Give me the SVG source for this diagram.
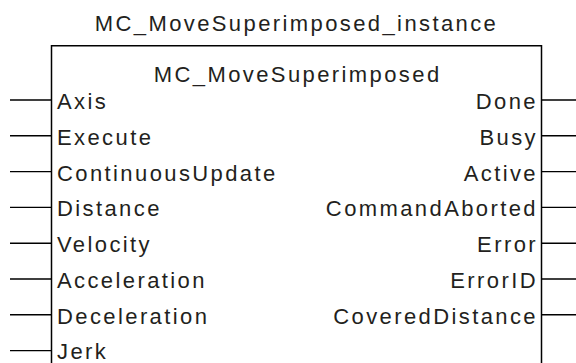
<svg xmlns="http://www.w3.org/2000/svg" width="576" height="363" viewBox="0 0 576 363">
  <style>
    text { font-family: "Liberation Sans", Arial, sans-serif; font-size: 22px; fill: #231f20; letter-spacing: 2.4px; }
    .l { text-anchor: start; }
    .r { text-anchor: end; }
    .c { text-anchor: middle; }
    .pin { stroke: #000; stroke-width: 1.4; fill: none; }
    .box { stroke: #000; stroke-width: 1.5; fill: #fff; }
  </style>
  <rect width="576" height="363" fill="#fff"/>
  <g id="instance-name">
    <text class="c" x="296.5" y="31">MC_MoveSuperimposed_instance</text>
  </g>
  <g id="fb-block">
    <path class="box" d="M51.5,370 V45.7 H541.5 V370"/>
    <text class="c" x="297.7" y="82">MC_MoveSuperimposed</text>
  </g>
  <g id="connectors">
    <path class="pin" d="M10,100 H51.5 M10,135.8 H51.5 M10,171.6 H51.5 M10,207.4 H51.5 M10,243.2 H51.5 M10,279 H51.5 M10,314.8 H51.5 M10,350.6 H51.5"/>
    <path class="pin" d="M541.5,100 H576 M541.5,135.8 H576 M541.5,171.6 H576 M541.5,207.4 H576 M541.5,243.2 H576 M541.5,279 H576 M541.5,314.8 H576"/>
  </g>
  <g id="inputs">
    <text class="l" x="57" y="109">Axis</text>
    <text class="l" x="57" y="144.8">Execute</text>
    <text class="l" x="57" y="180.6">ContinuousUpdate</text>
    <text class="l" x="57" y="216.4">Distance</text>
    <text class="l" x="57" y="252.2">Velocity</text>
    <text class="l" x="57" y="288">Acceleration</text>
    <text class="l" x="57" y="323.8">Deceleration</text>
    <text class="l" x="57" y="358.5">Jerk</text>
  </g>
  <g id="outputs">
    <text class="r" x="538" y="109">Done</text>
    <text class="r" x="538" y="144.8">Busy</text>
    <text class="r" x="538" y="180.6">Active</text>
    <text class="r" x="538" y="216.4">CommandAborted</text>
    <text class="r" x="538" y="252.2">Error</text>
    <text class="r" x="538" y="288">ErrorID</text>
    <text class="r" x="538" y="323.8">CoveredDistance</text>
  </g>
</svg>
